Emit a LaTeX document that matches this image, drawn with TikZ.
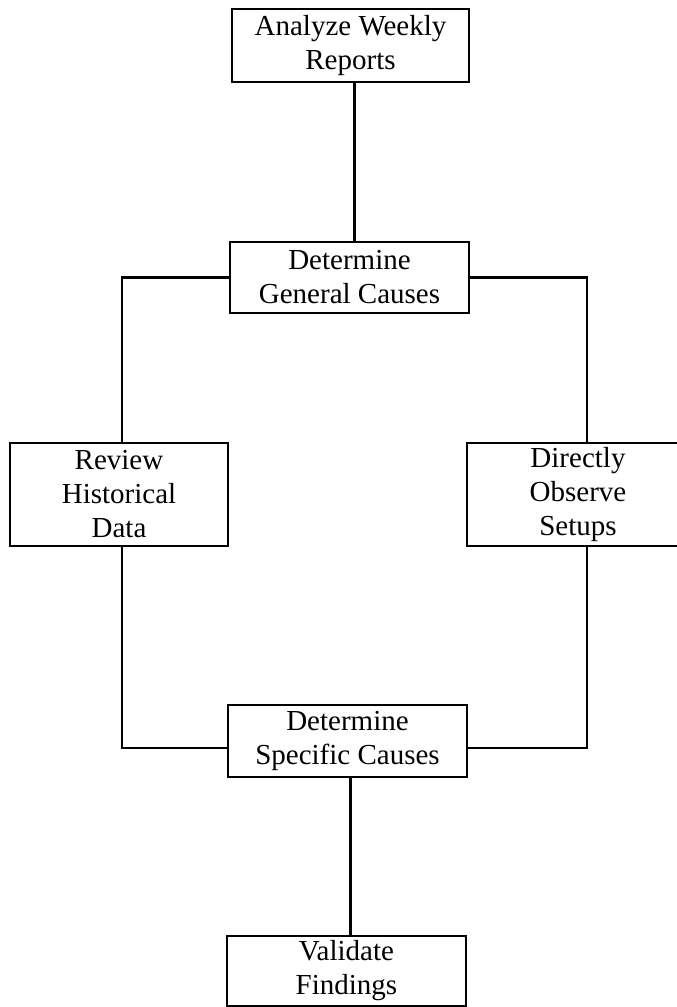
\documentclass[tikz,border=0pt]{standalone}
\usepackage{fontspec}
\setmainfont{Liberation Serif}
\begin{document}
\begin{tikzpicture}[x=1pt,y=-1pt,font=\fontsize{29}{34}\selectfont,
		task/.style={draw,line width=2.4pt,align=center,inner sep=0pt},
		link/.style={line width=2.2pt}]
	\useasboundingbox (0,0) rectangle (677,1007);
	\node[task,minimum width=237,minimum height=73] (weekly) at (350.5,45.5) {Analyze Weekly\\Reports};
	\node[task,minimum width=239,minimum height=71] (general) at (349.5,277.5) {Determine\\General Causes};
	\node[task,minimum width=218,minimum height=103] (history) at (119,494.5) {Review\\Historical\\Data};
	\node[task,minimum width=222,minimum height=103] (observe) at (578,494.5) {Directly\\Observe\\Setups};
	\node[task,minimum width=239,minimum height=72] (specific) at (347.5,741) {Determine\\Specific Causes};
	\node[task,minimum width=239,minimum height=70] (validate) at (346.5,971) {Validate\\Findings};
	\draw[link] ([xshift=4]weekly.south) -- ([xshift=5]general.north);
	\draw[link] (general.west) -| ([xshift=3]history.north);
	\draw[link] (general.east) -| ([xshift=9]observe.north);
	\draw[link] ([xshift=3]history.south) |- ([yshift=-7]specific.west);
	\draw[link] ([xshift=9]observe.south) |- ([yshift=-7]specific.east);
	\draw[link] ([xshift=3]specific.south) -- ([xshift=4]validate.north);
\end{tikzpicture}
\end{document}
